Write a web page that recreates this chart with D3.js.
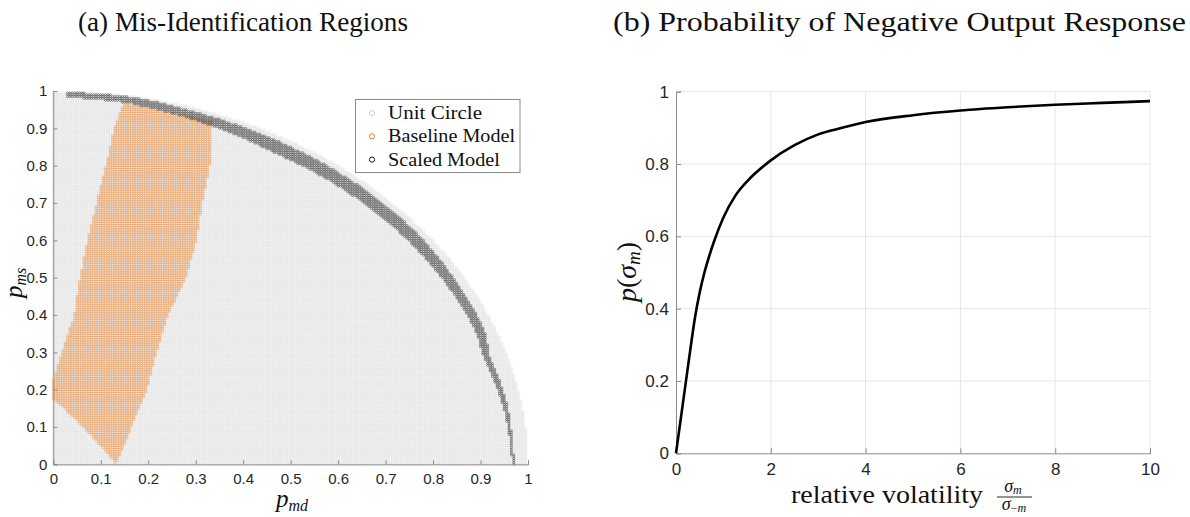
<!DOCTYPE html>
<html>
<head>
<meta charset="utf-8">
<script src="https://cdn.jsdelivr.net/npm/d3@7"></script>
<style>
  html, body { margin: 0; padding: 0; background: #fff; }
  svg { display: block; }
</style>
</head>
<body>
<svg id="chart" width="1190" height="517"></svg>
<script>
// ---------- Panel (a): mis-identification regions ----------
// Sampling step of the (p_md, p_ms) grid covering the quarter unit disk
const gridStep = 0.005;

// Baseline model region: boundary vertices (p_md, p_ms)
const baselineMd = [0.000, 0.063, 0.133, 0.165, 0.197, 0.218, 0.242, 0.280, 0.302, 0.314, 0.330, 0.336,
                    0.250, 0.160, 0.147, 0.128, 0.111, 0.091, 0.072, 0.056, 0.044, 0.018, 0.000];
const baselineMs = [0.175, 0.100, 0.000, 0.100, 0.200, 0.300, 0.400, 0.500, 0.600, 0.700, 0.800, 0.920,
                    0.942, 0.966, 0.966, 0.900, 0.800, 0.700, 0.600, 0.500, 0.400, 0.300, 0.225];

// Scaled model band: inner / outer radius by polar angle (degrees)
const bandAngle = [0, 6, 9, 17.5, 21.6, 30, 38.5, 61, 72, 81, 88.4];
const bandInner = [0.966, 0.962, 0.960, 0.950, 0.958, 0.958, 0.958, 0.955, 0.968, 0.980, 0.983];
const bandOuter = [0.971, 0.969, 0.970, 0.964, 0.977, 0.980, 0.985, 0.987, 0.990, 0.998, 0.997];

const ticksA = [0, 0.1, 0.2, 0.3, 0.4, 0.5, 0.6, 0.7, 0.8, 0.9, 1];
const legendLabels = ["Unit Circle", "Baseline Model", "Scaled Model"];
const legendWidths = [94, 127, 112];

// ---------- Panel (b): probability of negative output response ----------
const volatility = [0, 0.1, 0.2, 0.3, 0.4, 0.5, 0.6, 0.7, 0.8, 1.0, 1.25, 1.5, 2.0, 2.5, 3.0, 3.5, 4.0, 5.0, 6.0, 7.0, 8.0, 9.0, 10.0];
const probNeg    = [0, 0.095, 0.19, 0.285, 0.375, 0.445, 0.50, 0.545, 0.585, 0.652, 0.712, 0.752, 0.81, 0.852, 0.882, 0.90, 0.916, 0.935, 0.948, 0.957, 0.964, 0.969, 0.974];
const ticksBx = [0, 2, 4, 6, 8, 10];
const ticksBy = [0, 0.2, 0.4, 0.6, 0.8, 1];

const svg = d3.select("#chart");
const serif = "'Liberation Serif', 'DejaVu Serif', serif";
const sans = "'Liberation Sans', Arial, sans-serif";
const axisGrey = "#8c8c8c";
const tickText = "#262626";

// ===== Titles =====
svg.append("text").attr("x", 78).attr("y", 31).attr("font-family", serif).attr("font-size", 27)
  .attr("textLength", 330).attr("lengthAdjust", "spacingAndGlyphs").attr("fill", "#111")
  .text("(a) Mis-Identification Regions");
svg.append("text").attr("x", 613).attr("y", 31).attr("font-family", serif).attr("font-size", 27)
  .attr("textLength", 573).attr("lengthAdjust", "spacingAndGlyphs").attr("fill", "#111")
  .text("(b) Probability of Negative Output Response");

// ===== Panel (a) =====
const xA = d3.scaleLinear().domain([0, 1]).range([53.3, 528]);
const yA = d3.scaleLinear().domain([0, 1]).range([464.3, 91]);

const baselinePoly = baselineMd.map((d, i) => [d, baselineMs[i]]);
const innerAt = d3.scaleLinear().domain(bandAngle).range(bandInner).clamp(true);
const outerAt = d3.scaleLinear().domain(bandAngle).range(bandOuter).clamp(true);

const nSteps = Math.round(1 / gridStep);
const circlePts = [], basePts = [], bandPts = [];
for (let i = 0; i <= nSteps; i++) {
  for (let j = 0; j <= nSteps; j++) {
    const px = i * gridStep, py = j * gridStep;
    const r = Math.hypot(px, py);
    if (r > 1 + 1e-9) continue;
    circlePts.push([px, py]);
    if (d3.polygonContains(baselinePoly, [px, py])) basePts.push([px, py]);
    const ang = Math.atan2(py, px) * 180 / Math.PI;
    if (ang <= bandAngle[bandAngle.length - 1] && r >= innerAt(ang) && r <= outerAt(ang)) bandPts.push([px, py]);
  }
}

function ringPath(pts, rad) {
  const p = d3.path();
  pts.forEach(([a, b]) => {
    const cx = xA(a), cy = yA(b);
    p.moveTo(cx + rad, cy);
    p.arc(cx, cy, rad, 0, 2 * Math.PI);
  });
  return p.toString();
}

const gA = svg.append("g");
gA.append("path").attr("d", ringPath(circlePts, 1.15)).attr("fill", "none")
  .attr("stroke", "#d6d6d6").attr("stroke-width", 0.4);
gA.append("path").attr("d", ringPath(basePts, 1.15)).attr("fill", "none")
  .attr("stroke", "#ea9144").attr("stroke-width", 0.4);
gA.append("path").attr("d", ringPath(bandPts, 1.05)).attr("fill", "none")
  .attr("stroke", "#2a2a2a").attr("stroke-width", 0.45);

// axes (a): left and bottom only, ticks inward
const fmtA = d => d === 0 || d === 1 ? d3.format("d")(d) : d3.format(".1f")(d);
const axA_x = d3.axisBottom(xA).tickValues(ticksA).tickSize(-4).tickPadding(9).tickFormat(fmtA);
const axA_y = d3.axisLeft(yA).tickValues(ticksA).tickSize(-4).tickPadding(6).tickFormat(fmtA);
const gAx = svg.append("g").attr("transform", `translate(0,${yA(0)})`).call(axA_x);
const gAy = svg.append("g").attr("transform", `translate(${xA(0)},0)`).call(axA_y);
[gAx, gAy].forEach(g => {
  g.select(".domain").attr("stroke", axisGrey).attr("stroke-width", 1);
  g.selectAll(".tick line").attr("stroke", axisGrey);
  g.selectAll(".tick text").attr("font-family", sans).attr("font-size", 15).attr("fill", tickText);
});

// axis labels (a)
svg.append("text").attr("x", 276).attr("y", 507).attr("font-family", serif).attr("font-size", 25)
  .attr("font-style", "italic").attr("fill", "#111")
  .call(t => {
    t.append("tspan").text("p");
    t.append("tspan").attr("font-size", 16).attr("dy", 4).text("md");
  });
svg.append("text").attr("transform", "translate(22,298) rotate(-90)").attr("font-family", serif)
  .attr("font-size", 25).attr("font-style", "italic").attr("fill", "#111")
  .call(t => {
    t.append("tspan").text("p");
    t.append("tspan").attr("font-size", 16).attr("dy", 4).text("ms");
  });

// legend (a)
const leg = svg.append("g");
leg.append("rect").attr("x", 355.5).attr("y", 99.5).attr("width", 164.5).attr("height", 73)
  .attr("fill", "#fff").attr("stroke", "#8c8c8c").attr("stroke-width", 1);
const legColors = ["#cfcfcf", "#e8822a", "#1a1a1a"];
legendLabels.forEach((lab, i) => {
  const cy = 113 + i * 23.3;
  leg.append("circle").attr("cx", 372).attr("cy", cy).attr("r", 2.6).attr("fill", "none")
    .attr("stroke", legColors[i]).attr("stroke-width", 1);
  leg.append("text").attr("x", 388).attr("y", cy + 6).attr("font-family", serif).attr("font-size", 19)
    .attr("textLength", legendWidths[i]).attr("lengthAdjust", "spacingAndGlyphs")
    .attr("fill", "#111").text(lab);
});

// ===== Panel (b) =====
const xB = d3.scaleLinear().domain([0, 10]).range([676, 1150]);
const yB = d3.scaleLinear().domain([0, 1]).range([453.3, 91.7]);

const gB = svg.append("g");
// grid
gB.selectAll(".gx").data(ticksBx.slice(1)).join("line")
  .attr("x1", d => xB(d)).attr("x2", d => xB(d)).attr("y1", yB(0)).attr("y2", yB(1))
  .attr("stroke", "#e6e6e6").attr("stroke-width", 1);
gB.selectAll(".gy").data(ticksBy.slice(1)).join("line")
  .attr("x1", xB(0)).attr("x2", xB(10)).attr("y1", d => yB(d)).attr("y2", d => yB(d))
  .attr("stroke", "#e6e6e6").attr("stroke-width", 1);

const axB_x = d3.axisBottom(xB).tickValues(ticksBx).tickSize(-5).tickPadding(10).tickFormat(d3.format("d"));
const axB_y = d3.axisLeft(yB).tickValues(ticksBy).tickSize(-5).tickPadding(7).tickFormat(fmtA);
const gBx = svg.append("g").attr("transform", `translate(0,${yB(0)})`).call(axB_x);
const gBy = svg.append("g").attr("transform", `translate(${xB(0)},0)`).call(axB_y);
[gBx, gBy].forEach(g => {
  g.select(".domain").attr("stroke", axisGrey).attr("stroke-width", 1);
  g.selectAll(".tick line").attr("stroke", axisGrey);
  g.selectAll(".tick text").attr("font-family", sans).attr("font-size", 17).attr("fill", tickText);
});

// curve
const line = d3.line().x((d, i) => xB(volatility[i])).y(d => yB(d)).curve(d3.curveMonotoneX);
svg.append("path").attr("d", line(probNeg)).attr("fill", "none")
  .attr("stroke", "#000").attr("stroke-width", 2.6).attr("stroke-linejoin", "round");

// axis labels (b)
svg.append("text").attr("x", 791).attr("y", 503).attr("font-family", serif).attr("font-size", 25)
  .attr("textLength", 192).attr("lengthAdjust", "spacingAndGlyphs").attr("fill", "#111")
  .text("relative volatility");
const frac = svg.append("g").attr("font-family", serif).attr("font-style", "italic").attr("fill", "#111");
frac.append("text").attr("x", 1013).attr("y", 492).attr("text-anchor", "middle").attr("font-size", 18)
  .call(t => {
    t.append("tspan").text("σ");
    t.append("tspan").attr("font-size", 12).attr("dy", 2).text("m");
  });
frac.append("line").attr("x1", 997).attr("x2", 1032).attr("y1", 497).attr("y2", 497)
  .attr("stroke", "#111").attr("stroke-width", 0.9);
frac.append("text").attr("x", 1014).attr("y", 510).attr("text-anchor", "middle").attr("font-size", 18)
  .call(t => {
    t.append("tspan").text("σ");
    t.append("tspan").attr("font-size", 12).attr("dy", 2).attr("font-style", "normal").text("−");
    t.append("tspan").attr("font-size", 12).text("m");
  });

svg.append("text").attr("transform", "translate(636,272) rotate(-90)").attr("text-anchor", "middle")
  .attr("font-family", serif).attr("font-size", 28).attr("fill", "#111")
  .call(t => {
    t.append("tspan").attr("font-style", "italic").text("p");
    t.append("tspan").text("(");
    t.append("tspan").attr("font-style", "italic").text("σ");
    t.append("tspan").attr("font-style", "italic").attr("font-size", 19).attr("dy", 4).text("m");
    t.append("tspan").attr("dy", -4).text(")");
  });
</script>
</body>
</html>
